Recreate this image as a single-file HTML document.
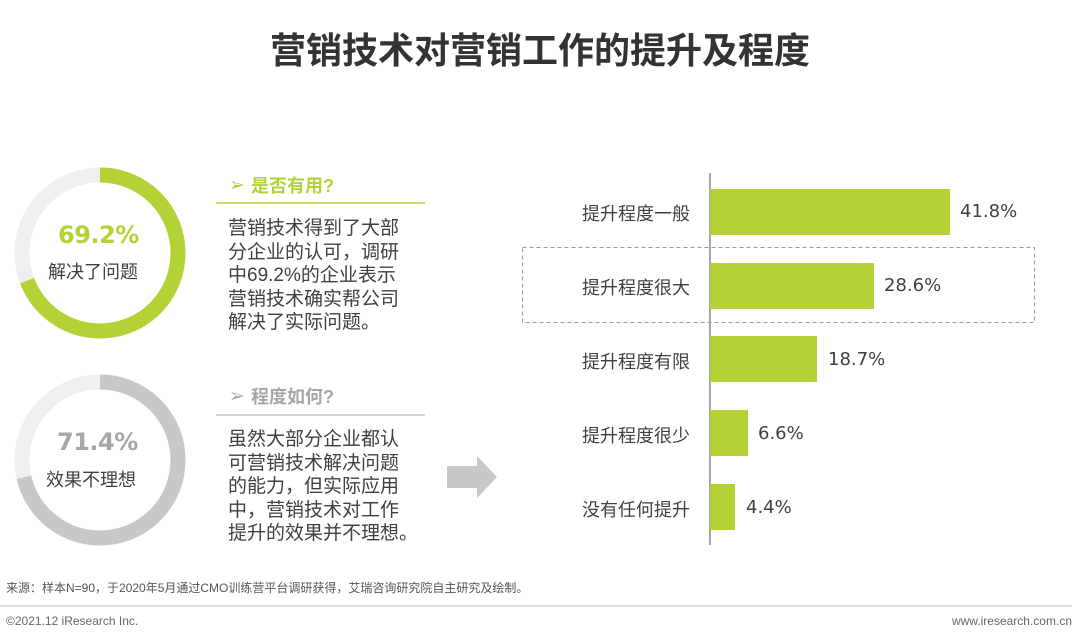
<!DOCTYPE html>
<html><head><meta charset="utf-8"><style>
body{margin:0;width:1080px;height:642px;background:#fff;position:relative;overflow:hidden;font-family:"Liberation Sans","Noto Sans CJK SC",sans-serif;color:#404040}
.a{position:absolute;white-space:nowrap}
.t{left:0;width:1080px;text-align:center;top:22px;font-size:36px;font-weight:bold;color:#333}
.body{font-size:19px;line-height:23.5px;color:#404040}
.lab{font-size:18px;color:#404040;right:390px;text-align:right}
.val{font-size:18px;color:#404040;font-family:"DejaVu Sans",sans-serif}
.bar{position:absolute;background:#b2d235;left:710px;height:46px}
</style></head><body>
<div class="a t">营销技术对营销工作的提升及程度</div>

<svg class="a" style="left:0;top:0" width="1080" height="642">
<circle cx="100" cy="253" r="78" fill="none" stroke="#efefef" stroke-width="15"/>
<circle cx="100" cy="253" r="78" fill="none" stroke="#b2d235" stroke-width="15" stroke-dasharray="339.1 490.1" transform="rotate(-90 100 253)"/>
<circle cx="100" cy="460" r="78" fill="none" stroke="#efefef" stroke-width="15"/>
<circle cx="100" cy="460" r="78" fill="none" stroke="#c8c8c8" stroke-width="15" stroke-dasharray="349.9 490.1" transform="rotate(-90 100 460)"/>
<line x1="216" y1="203" x2="425" y2="203" stroke="#b2d235" stroke-width="1.5"/>
<line x1="216" y1="415" x2="425" y2="415" stroke="#c8c8c8" stroke-width="1.5"/>
<polygon points="447,466 477,466 477,456 497,477 477,498 477,488 447,488" fill="#c8c8c8"/>
<line x1="710" y1="173" x2="710" y2="545" stroke="#888" stroke-width="1.5"/>
<rect x="522.5" y="247.5" width="512" height="75" fill="none" stroke="#999" stroke-width="1" stroke-dasharray="4 3"/>
<line x1="0" y1="606" x2="1072" y2="606" stroke="#bbb" stroke-width="1"/>
<text x="229" y="191" font-size="19" fill="#b2d235">➢</text>
<text x="229" y="402" font-size="19" fill="#aaa">➢</text>
</svg>

<div class="a" style="left:58px;top:221px;font-size:24px;font-weight:bold;color:#b2d235;font-family:'DejaVu Sans',sans-serif;letter-spacing:-0.5px">69.2%</div>
<div class="a" style="left:48px;top:258px;font-size:18px;color:#404040">解决了问题</div>
<div class="a" style="left:57px;top:428px;font-size:24px;font-weight:bold;color:#a6a6a6;font-family:'DejaVu Sans',sans-serif;letter-spacing:-0.5px">71.4%</div>
<div class="a" style="left:46px;top:466px;font-size:18px;color:#404040">效果不理想</div>

<div class="a" style="left:251px;top:172px;font-size:18px;font-weight:bold;color:#b2d235">是否有用?</div>
<div class="a" style="left:251px;top:383px;font-size:18px;font-weight:bold;color:#a6a6a6">程度如何?</div>
<div class="a body" style="left:228px;top:217px">营销技术得到了大部<br>分企业的认可，调研<br>中69.2%的企业表示<br>营销技术确实帮公司<br>解决了实际问题。</div>
<div class="a body" style="left:228px;top:428px">虽然大部分企业都认<br>可营销技术解决问题<br>的能力，但实际应用<br>中，营销技术对工作<br>提升的效果并不理想。</div>

<div class="bar" style="top:189px;width:240px"></div>
<div class="bar" style="top:263px;width:164px"></div>
<div class="bar" style="top:336px;width:107px"></div>
<div class="bar" style="top:410px;width:38px"></div>
<div class="bar" style="top:484px;width:25px"></div>

<div class="a lab" style="top:200px">提升程度一般</div>
<div class="a lab" style="top:274px">提升程度很大</div>
<div class="a lab" style="top:348px">提升程度有限</div>
<div class="a lab" style="top:422px">提升程度很少</div>
<div class="a lab" style="top:496px">没有任何提升</div>
<div class="a val" style="left:960px;top:201px">41.8%</div>
<div class="a val" style="left:884px;top:275px">28.6%</div>
<div class="a val" style="left:828px;top:349px">18.7%</div>
<div class="a val" style="left:758px;top:423px">6.6%</div>
<div class="a val" style="left:746px;top:497px">4.4%</div>

<div class="a" style="left:6px;top:579px;font-size:12px;color:#555">来源：样本N=90，于2020年5月通过CMO训练营平台调研获得，艾瑞咨询研究院自主研究及绘制。</div>
<div class="a" style="left:6px;top:614px;font-size:12px;color:#666">©2021.12 iResearch Inc.</div>
<div class="a" style="right:8px;top:614px;font-size:12px;color:#666">www.iresearch.com.cn</div>
</body></html>
